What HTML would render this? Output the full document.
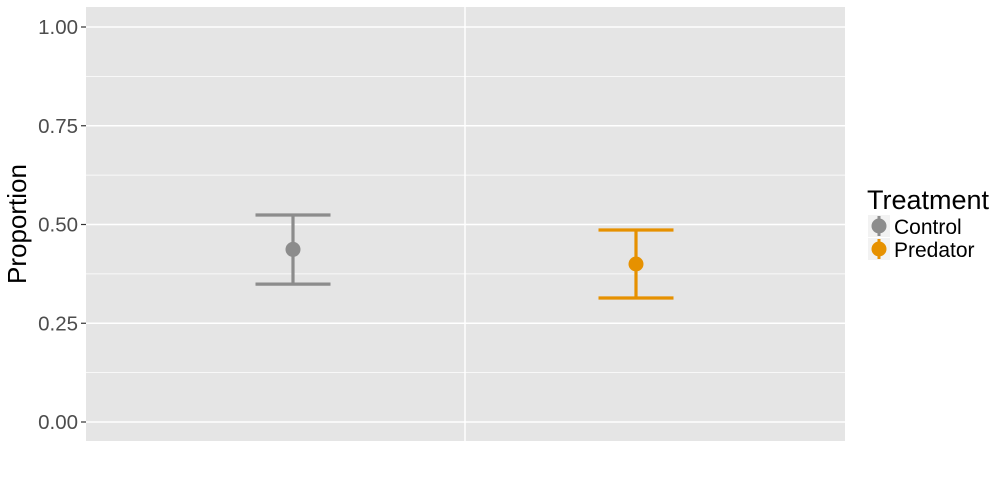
<!DOCTYPE html>
<html><head><meta charset="utf-8"><style>
body{margin:0;background:#fff;}
svg{display:block;font-family:"Liberation Sans",sans-serif;}
</style></head><body>
<svg width="1004" height="479">
<rect x="86" y="7" width="759" height="434" fill="#e5e5e5"/>
<g id="grid"></g>
<g id="yaxis"></g>
<g id="marks"></g>
<text transform="translate(26,224) rotate(-90)" text-anchor="middle" font-size="26" fill="#000">Proportion</text>
<g>
<text x="867" y="209" font-size="27" fill="#000">Treatment</text>
<g>
<rect x="868" y="215" width="22" height="22" fill="#f2f2f2"/>
<line x1="879" y1="216" x2="879" y2="236" stroke="#8c8c8c" stroke-width="3"/>
<circle cx="879" cy="226" r="7.5" fill="#8c8c8c"/>
<text x="894" y="234" font-size="21" fill="#000">Control</text></g>
<g>
<rect x="868" y="238" width="22" height="22" fill="#f2f2f2"/>
<line x1="879" y1="239" x2="879" y2="259" stroke="#E69100" stroke-width="3"/>
<circle cx="879" cy="249" r="7.5" fill="#E69100"/>
<text x="894" y="257" font-size="21" fill="#000">Predator</text></g>
</g>
</svg>
<script>
const categories=["Control","Predator"];
const means=[0.437,0.40];
const lowers=[0.349,0.314];
const uppers=[0.524,0.486];
const colors=["#8c8c8c","#E69100"];
const yTicks=[0,0.25,0.5,0.75,1];
const yTickLabels=["0.00","0.25","0.50","0.75","1.00"];
const NS="http://www.w3.org/2000/svg";
const y=v=>422-v*395;
const xs=[293,636];
function mk(t,a,p){const e=document.createElementNS(NS,t);for(const k in a)e.setAttribute(k,a[k]);p.appendChild(e);return e;}
const grid=document.getElementById('grid'),ya=document.getElementById('yaxis'),mg=document.getElementById('marks');
for(let i=0;i<yTicks.length-1;i++){const v=(yTicks[i]+yTicks[i+1])/2;
const l=mk('line',{x1:86,x2:845,y1:y(v),y2:y(v),stroke:'#fff','stroke-width':0.7},grid);

}
yTicks.forEach((v,i)=>{
const l=mk('line',{x1:86,x2:845,y1:y(v),y2:y(v),stroke:'#fff','stroke-width':1.5},grid);


const t=mk('line',{x1:81,x2:86,y1:y(v),y2:y(v),stroke:'#333','stroke-width':1.2},ya);


const tx=mk('text',{x:78,y:y(v)+7,'text-anchor':'end','font-size':20.5,fill:'#4d4d4d'},ya);
tx.textContent=yTickLabels[i];

});
const vl=mk('line',{x1:465,x2:465,y1:7,y2:441,stroke:'#fff','stroke-width':1.5},grid);


categories.forEach((c,i)=>{
const g=mk('g',{},mg);


const x=xs[i],w=37.5,s={stroke:colors[i],'stroke-width':3.2};
mk('line',Object.assign({x1:x,x2:x,y1:y(uppers[i]),y2:y(lowers[i])},s),g);
mk('line',Object.assign({x1:x-w,x2:x+w,y1:y(uppers[i]),y2:y(uppers[i])},s),g);
mk('line',Object.assign({x1:x-w,x2:x+w,y1:y(lowers[i]),y2:y(lowers[i])},s),g);
const p=mk('circle',{cx:x,cy:y(means[i]),r:7.5,fill:colors[i]},mg);

});
</script>
</body></html>
